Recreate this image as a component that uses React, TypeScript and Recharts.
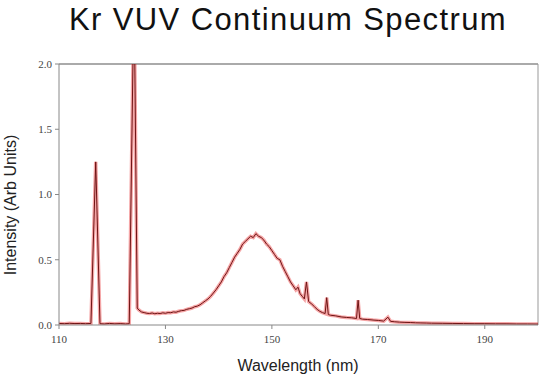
import { LineChart, Line, XAxis, YAxis, ReferenceLine } from 'recharts'

// 波長(nm)
const wavelength = [
  110, 111, 112, 113, 114, 115, 116.0, 116.9, 117.7, 118.5, 119.5, 120.5, 121.5, 122.5, 123.2, 124.1, 124.7,
  125, 125.5, 126, 126.5, 127, 127.5, 128, 128.5, 129, 129.5, 130, 130.5, 131, 131.5, 132, 132.5, 133, 133.5,
  134, 134.5, 135, 135.5, 136, 136.5, 137, 137.5, 138, 138.5, 139, 139.5, 140, 140.5, 141, 141.5, 142, 142.5,
  143, 143.5, 144, 144.5, 145, 145.5, 146, 146.5, 147, 147.5, 148, 148.5, 149, 149.5, 150, 150.5, 151, 151.5,
  152, 152.5, 153, 153.5, 154, 154.5, 154.9, 155.3, 155.7, 156.1, 156.5, 156.9, 157.5, 158, 158.5, 159, 159.5,
  160, 160.3, 160.6, 161, 162, 163, 164, 165, 165.9, 166.2, 166.5, 167, 168, 169, 170, 171, 171.8, 172.3, 173,
  174, 175, 176, 177, 178, 179, 180, 182, 184, 186, 188, 190, 192, 194, 196, 198, 200,
]

// 強度(任意単位)
const intensity = [
  0.012, 0.01, 0.013, 0.011, 0.012, 0.01, 0.012, 1.25, 0.01, 0.008, 0.012, 0.009, 0.011, 0.008, 0.01, 2.6, 0.13,
  0.115, 0.1, 0.095, 0.09, 0.088, 0.092, 0.086, 0.09, 0.088, 0.093, 0.09, 0.095, 0.094, 0.1, 0.098, 0.105, 0.11, 0.112,
  0.12, 0.125, 0.13, 0.14, 0.145, 0.155, 0.17, 0.185, 0.2, 0.22, 0.245, 0.27, 0.3, 0.33, 0.37, 0.4, 0.44, 0.48,
  0.52, 0.55, 0.58, 0.62, 0.64, 0.66, 0.68, 0.67, 0.7, 0.68, 0.67, 0.65, 0.62, 0.6, 0.57, 0.54, 0.51, 0.5,
  0.45, 0.41, 0.37, 0.33, 0.3, 0.27, 0.29, 0.24, 0.22, 0.2, 0.33, 0.18, 0.16, 0.14, 0.12, 0.105, 0.095,
  0.088, 0.21, 0.08, 0.075, 0.07, 0.062, 0.058, 0.055, 0.05, 0.19, 0.05, 0.045, 0.042, 0.038, 0.035, 0.03, 0.06, 0.028, 0.025,
  0.022, 0.02, 0.019, 0.017, 0.016, 0.015, 0.014, 0.013, 0.012, 0.011, 0.01, 0.01, 0.009, 0.009, 0.008, 0.008, 0.007,
]

const xTicks = [110, 130, 150, 170, 190]
const yTicks = [0, 0.5, 1, 1.5, 2]

const data = wavelength.map((w, i) => ({ nm: w, v: intensity[i] }))

const tickStyle = { fill: '#444', fontSize: 11, fontFamily: '"Liberation Serif", serif' }

export default function App() {
  return (
    <div style={{ position: 'absolute', left: 0, top: 0, width: 550, height: 381, background: '#fff' }}>
      <div
        style={{
          position: 'absolute',
          left: 0,
          width: 576,
          top: 2,
          textAlign: 'center',
          fontFamily: '"Liberation Sans", Arial, sans-serif',
          fontSize: 31,
          letterSpacing: 1.4,
          color: '#111',
        }}
      >
        Kr VUV Continuum Spectrum
      </div>
      <LineChart
        width={550}
        height={381}
        data={data}
        margin={{ top: 64, right: 12, left: 0, bottom: 26 }}
      >
        <XAxis
          dataKey="nm"
          type="number"
          domain={[110, 200]}
          ticks={xTicks}
          tick={tickStyle}
          tickSize={4}
          tickMargin={6}
          height={30}
          stroke="#888"
        />
        <YAxis
          type="number"
          domain={[0, 2]}
          allowDataOverflow
          ticks={yTicks}
          tickFormatter={(v: number) => v.toFixed(1)}
          tick={tickStyle}
          tickSize={4}
          tickMargin={3}
          width={59}
          stroke="#888"
        />
        <ReferenceLine y={2} stroke="#aaa" strokeWidth={2} />
        <ReferenceLine x={200} stroke="#999" />
        <Line
          type="linear"
          dataKey="v"
          stroke="#e8383a"
          strokeOpacity={0.45}
          strokeWidth={3.5}
          dot={false}
          isAnimationActive={false}
        />
        <Line
          type="linear"
          dataKey="v"
          stroke="#6e1414"
          strokeWidth={1}
          dot={false}
          isAnimationActive={false}
        />
      </LineChart>
      <div
        style={{
          position: 'absolute',
          left: 200,
          width: 196,
          top: 357,
          textAlign: 'center',
          fontFamily: '"Liberation Sans", Arial, sans-serif',
          fontSize: 16,
          color: '#222',
        }}
      >
        Wavelength (nm)
      </div>
      <div
        style={{
          position: 'absolute',
          left: 11,
          top: 205,
          transform: 'translate(-50%, -50%) rotate(-90deg)',
          whiteSpace: 'nowrap',
          fontFamily: '"Liberation Sans", Arial, sans-serif',
          fontSize: 16,
          color: '#222',
        }}
      >
        Intensity (Arb Units)
      </div>
    </div>
  )
}
